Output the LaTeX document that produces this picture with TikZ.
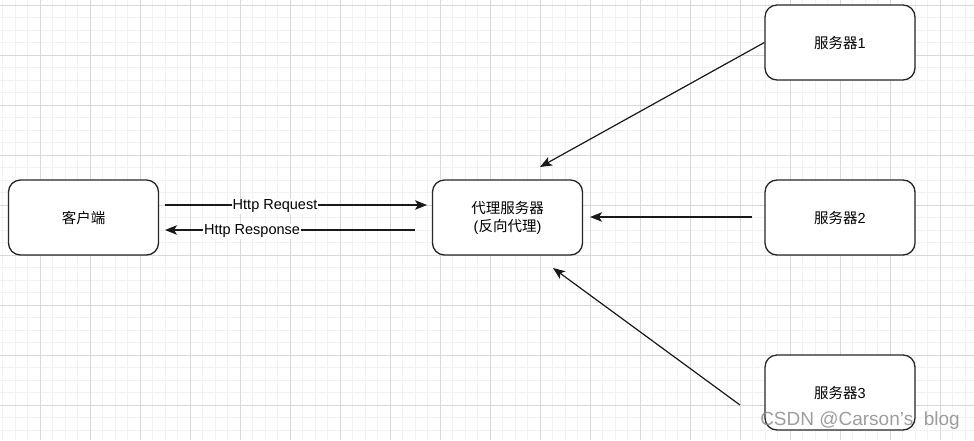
\documentclass[tikz,border=0pt]{standalone}
\usepackage{fontspec}
\setmainfont{Liberation Sans}
\newfontfamily\cjk{Noto Sans CJK SC}
\usetikzlibrary{arrows.meta}
\definecolor{gridminor}{RGB}{242,242,242}
\definecolor{gridmajor}{RGB}{216,216,216}
\definecolor{wmgray}{RGB}{140,140,140}
\tikzset{
  box/.style={draw=black!85, line width=1.3pt, rounded corners=12pt, fill=white,
    minimum width=150pt, minimum height=75pt, align=center, inner sep=0pt,
    font=\fontsize{14.5}{18}\selectfont},
  conn/.style={line width=1.2pt, draw=black!90, -{Stealth[length=12pt,width=9.5pt,inset=3pt]}},
  lbl/.style={fill=white, inner sep=1pt, yshift=-1.5pt, font=\fontsize{14.5}{17}\selectfont}
}
\begin{document}
\begin{tikzpicture}[x=1pt,y=-1pt]
\useasboundingbox (0,0) rectangle (974,440);
\fill[white] (0,0) rectangle (974,440);
% grid
\foreach \i in {0,...,77} \draw[gridminor, line width=1pt] ({2.5+12.5*\i},0) -- ({2.5+12.5*\i},440);
\foreach \i in {0,...,35} \draw[gridminor, line width=1pt] (0,{5+12.5*\i}) -- (974,{5+12.5*\i});
\foreach \i in {1,...,19} \draw[gridmajor, line width=1pt] ({-10+50*\i},0) -- ({-10+50*\i},440);
\foreach \i in {0,...,8} \draw[gridmajor, line width=1pt] (0,{5+50*\i}) -- (974,{5+50*\i});
% nodes
\node[box] (cli) at (83.5,217.5) {\cjk 客户端};
\node[box] (proxy) at (507.5,217.5) {{\cjk 代理服务器}\\({\cjk 反向代理})};
\node[box] (s1) at (840,42.5) {{\cjk 服务器}1};
\node[box] (s2) at (840,217.5) {{\cjk 服务器}2};
\node[box] (s3) at (840,392.5) {{\cjk 服务器}3};
% connector ends
\coordinate (rqs) at (165,205);
\coordinate (rqe) at (427,205);
\coordinate (rss) at (415,230);
\coordinate (rse) at (165,230);
\coordinate (s2s) at (752,217);
\coordinate (s2e) at (590,217);
\coordinate (s1e) at (540,167);
\coordinate (s3s) at (740,405);
\coordinate (s3e) at (553,268);
% connectors
\draw[conn] (rqs) -- node[lbl, pos=0.42] {Http Request} (rqe);
\draw[conn] (rss) -- node[lbl, pos=0.652] {Http Response} (rse);
\draw[conn] (s2s) -- (s2e);
\draw[conn] (s1.west) -- (s1e);
\draw[conn] (s3s) -- (s3e);
% watermark
\node[text=wmgray, opacity=0.85, font=\fontsize{19}{22}\selectfont, inner sep=0pt] (wm) at (860,421) {CSDN @Carson's\ \ blog};
\end{tikzpicture}
\end{document}
